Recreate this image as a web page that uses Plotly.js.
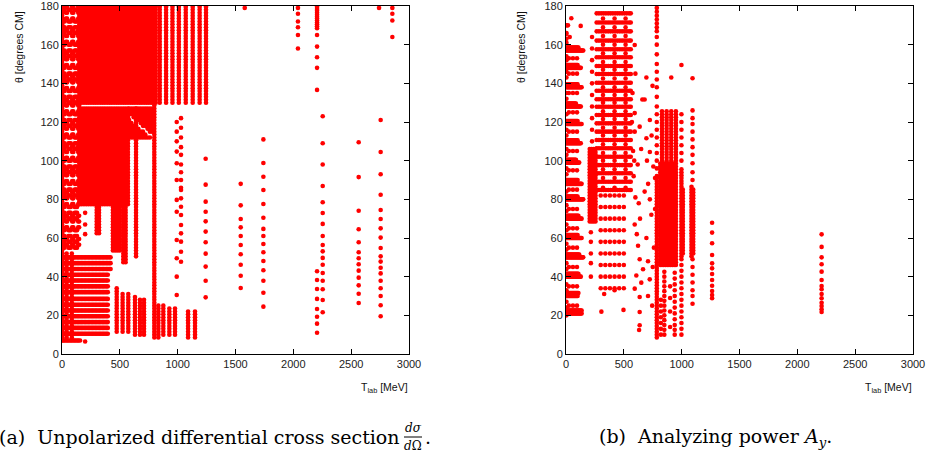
<!DOCTYPE html>
<html><head><meta charset="utf-8">
<script src="https://cdn.plot.ly/plotly-3.0.1.min.js"></script>
<style>html,body{margin:0;padding:0;background:#fff}#chart{width:930px;height:455px}</style>
</head><body><div id="chart"></div>
<script>
// ================= DATA =================
// common angle grid (degrees CM) used by densely measured energies
const thetaGrid = [7,8.5,10,11.5,13,14.5,16,17.5,19,20.5,22,23.5,25,26.5,28,29.5,31,32.5,34,35.5,37,38.5,40,41.5,43,44.5,46,47.5,49,50.5,52,53.5,55,56.5,58,59.5,61,62.5,64,65.5,67,68.5,70,71.5,73,74.5,76,77.5,79,80.5,82,83.5,85,86.5,88,89.5,91,92.5,94,95.5,97,98.5,100,101.5,103,104.5,106,107.5,109,110.5,112,113.5,115,116.5,118,119.5,121,122.5,124,125.5,127,128.5,130,131.5,133,134.5,136,137.5,139,140.5,142,143.5,145,146.5,148,149.5,151,152.5,154,155.5,157,158.5,160,161.5,163,164.5,166,167.5,169,170.5,172,173.5,175,176.5,178,179.5];

// ---- (a) unpolarized differential cross section ----
const aTopE = [150,170,190,210,230,250,270,290,310,330,350,370,390,410,430,450,470,490,510,530,550,570,590,610,630,650,670,690,710,730,750,770,790,810];
const aTopRange = [129.5, 180];
const aHighE = [845,900,955,1010,1070,1130,1190,1245];
const aHighRange = [129.5, 180];
const aMidE = [150,170,190,210,230,250,270,290,310,330,350,370,390,410,430,450,470,490,510,530,550,570];
const aMidRange = [77, 128];
const aFullE = [798];
const aFullRange = [8, 180];
const aStubE = [300,320,440,460,480,500,530,550,640];
const aStubBot = [62,62,53,53,53,53,47,47,50];
const aStubTop = [78,78,78,78,78,78,78,78,128];
const aBandE = [580,600,620,640,660,680,700,720,740,760,780];
const aBandUpBot = [124,123,122,121,120,119,118,117,116,115,114];
const aBandUpTop = [128,128,128,128,128,128,128,128,128,128,128];
const aBandLoBot = [112,112,112,112,112,111,111,111,111,111,111];
const aBandLoTop = [121,120,119,118,117,116,115,114,113,112,111];
const aFwdE = [473,524,573,631,674,709,833,876,928,977,1090,1150];
const aFwdBot = [11,11,10.5,10,10,9.5,8.5,9,9,9,8,8];
const aFwdTop = [34,32,31,30,29,28,26,25,24,23.5,22.5,22];
const aBridgeE = [3,40,85];
const aBridgeRange = [8, 52];
const aEdgeE = [1];
const aEdgeRange = [52, 180];
const aRowTh = [7,10.5,13.5,16.5,19.5,22.5,25.5,28.5,32,35,38,41,44,47,50];
const aRowMaxE = [160,400,400,400,400,400,400,400,400,400,400,400,420,420,420];
const aRowE = [0,12,24,36,48,60,72,84,96,108,120,132,144,156,168,180,192,204,216,228,240,252,264,276,288,300,312,324,336,348,360,372,384,396,408,420];
const aPatchE1 = [3,12,22,56,66,76,110,120,130];
const aPatchThA = [55,58,61,64,70,73,76,82,85,88,94,97,100,106,109,112,118,121,124,130,133,136,142,145,148,154,157,160,166,169,172,178];
const aPatchE2 = [34,44,88,98,140,148];
const aPatchThB = [56.5,59.5,65.5,68.5,71.5,77.5,80.5,83.5,89.5,92.5,95.5,101.5,104.5,107.5,113.5,116.5,119.5,125.5,128.5,131.5,137.5,140.5,143.5,149.5,152.5,155.5,161.5,164.5,167.5,173.5,176.5,179.5];
const aSparseE = [992,1029,1242,1545,1580,1741,2040,2205,2254,2565,2741,2755,2856,200];
const aSparseTh = [
  [120,115,110,104.7,98.7,90,79.7,73.6,59,49.5,40,30.5],
  [122,117,112,107,103,98,94,90,86,84.8,80.5,76.2,71.9,66.7,62.4,58.1,52.9,47.7],
  [101,87.6,78.8,73.6,68.6,63.3,57.8,51.9,45.2,37.9,29.3],
  [88,76.9,69.8,65.5,61,56.4,51.6,46.2,40.5,34.1],
  [179],
  [111,98.8,91.7,84.8,77.6,70.5,64.7,61,56.9,52.6,48.1,43.3,37.9,31.7,24.5],
  [179,176,172,169,165,158],
  [179.5,178.5,177.5,176.5,175.5,174.5,173.5,172.5,171.5,170.5,169.5,168.5,165,159,153.5,148,136.6,42.8,38.3,33.6,28.5,23.3,19.3,15.7,11],
  [123,109,98,86.9,78.5,72.9,67.3,61,56.4,53.1,49.7,46.2,41.9,37.9,33.5,27.9,21.6],
  [109.5,91.5,74.1,64.5,57.8,52.6,49.5,46.4,43.1,39.5,35.5,31.2,26.4],
  [179],
  [121,104.5,93,82.4,74.5,69.8,65,60.2,54.8,50.5,47.8,44.6,41.7,37.9,34,30,25.2,19.5],
  [179,176,172.5,164],
  [79,73,67,62,6.5]
];

// ---- (b) analyzing power ----
const bDenseE = [205,222,238,255,785,815,830,845,860,875,890,905,920,935,950,830,870,910,950,998,1010,1085,1100];
const bDenseBot = [68,68,68,68,8,45,45,45,45,45,45,45,45,45,45,99,99,99,99,48,52,50,52];
const bDenseTop = [107,107,107,107,91,99,99,99,99,99,99,99,99,99,99,126,126,126,126,96,86,87,86];
const bRowTh = [21,22.5,30,31.5,40,41.5,50,51.5,60,61.5,70,71.5,80,81.5,88,90,99,100.5,109,110.5,119,120.5,128,129.5,138,139.5,148,149.5,157,158.5];
const bRowMaxE = [140,140,100,110,130,110,150,120,140,100,140,110,150,100,140,100,120,90,130,100,140,100,130,90,140,100,130,100,150,110];
const bRowE = [2,9,16,23,30,37,44,51,58,65,72,79,86,93,100,107,114,121,128,135,142,149];
const bEdgeE = [4];
const bEdgeTh = [20,24,27,33,36,44,47,54,57,64,67,74,77,84,93,96,103,106,113,116,124,132,135,143,146,152,154,161,163,166,170];
const bZigE = [25,60,95];
const bZigTh = [25,35,45,55,65,75,85,95,105,115,125,135,145,153];
const bTopE = [3,17,32,46,127];
const bTopTh = [165.5,170,164,173.7,169.7];
const bMidTh = [176.2,171.5,166.9,162.1,157.6,153.5,149,144.8,140.3,136.2,131.8,127.9,123.6,119.3,115,110.7,106.4,102,97.7,93.5,89.1,84.8];
const bMidE = [265,285,305,325,345,365,385,405,425,445,465,485,505,525,545,560];
const bMidColE = [320,420,515];
const bMidColTh = [86,91,95.5,100,104,108.5,113,117,121.5,125.5,130,134,138,142.5,147,151,155.5,160,164.5,169,173.5];
const bMidLowE = [300,340,380,420,460,500];
const bMidLowTh = [34,40,46,52,58,64,70,76,82];
const bSparseE = [225,215,785,998,998,1094,1094,1263,2210,850,940,900,820];
const bSparseTh = [
  [110,116,122,128,134,140,146,152,158,164],
  [40,47,52,58,63],
  [179,177,175,173,171,169,167,164,160,155,150,146,142,138,133,128,124,120,116,112,108,104,100,96,92],
  [149.5,124,120,116,112,108,104,100],
  [46,43,40,37,34,31,28,25,22,19,16,13,10],
  [142.6,126,122,119,115,111,107,103,98.7,94,90],
  [49,45,41,37,33,30,26],
  [67.9,62.8,57.3,51.2,46.9,44.3,41.4,38.3,35.3,32.6,30.5,28.8],
  [61.9,55.4,50,46.4,42.6,38.3,35.2,33.5,31,28.8,26.5,24.8,23.1,21.7],
  [10,12.5,15,17.5,20,22.5,25,27.5,30,32.5,35,37.5,40,42.5],
  [10,12.5,15,18,21,24,27,30,33,36,39,42],
  [14,22,29,35],
  [10,13,16,19,22,25,28]
];
const bScatE = [594,600,695,910,660,680,748,594,594,637,695,725,740,725,755,770,710,680,725,770,600,629,594,623,637,608,594,637,637,637,632,695,709,724,709,651,666,738,612,640,760,750,745,700,650,620,580,585,570,575,590,306,497,330,420];
const bScatTh = [159.8,145,143,143,131.6,131.6,138.7,124.6,115,117.6,111.6,121,113,104.5,97,91,88,84,80,75,81,78,67,56,49,40.6,33.8,29.5,21.7,14.9,12.4,60,48,38.6,30,36.9,43.8,72,62,70,55,45,25,100,106,98,105,92,120,135,100,21.9,22.8,31,33];

// ================= BUILD POINTS =================
function cols(P, E, bot, top) {
  E.forEach((e, i) => {
    const lo = Array.isArray(bot) ? bot[i] : bot;
    const hi = Array.isArray(top) ? top[i] : top;
    thetaGrid.forEach(t => { if (t >= lo && t <= hi) { P.x.push(e); P.y.push(t); } });
  });
}
function grid(P, E, Th) { E.forEach(e => Th.forEach(t => { P.x.push(e); P.y.push(t); })); }
function nested(P, E, ThL) { E.forEach((e, i) => ThL[i].forEach(t => { P.x.push(e); P.y.push(t); })); }
function pairs(P, E, Th) { E.forEach((e, i) => { P.x.push(e); P.y.push(Th[i]); }); }
function rows(P, Th, maxE, E) { Th.forEach((t, i) => E.forEach(e => { if (e <= maxE[i]) { P.x.push(e); P.y.push(t); } })); }

const A = {x: [], y: []};
cols(A, aTopE, aTopRange[0], aTopRange[1]);
cols(A, aHighE, aHighRange[0], aHighRange[1]);
cols(A, aMidE, aMidRange[0], aMidRange[1]);
cols(A, aFullE, aFullRange[0], aFullRange[1]);
cols(A, aStubE, aStubBot, aStubTop);
cols(A, aBandE, aBandUpBot, aBandUpTop);
cols(A, aBandE, aBandLoBot, aBandLoTop);
cols(A, aFwdE, aFwdBot, aFwdTop);
cols(A, aBridgeE, aBridgeRange[0], aBridgeRange[1]);
cols(A, aEdgeE, aEdgeRange[0], aEdgeRange[1]);
rows(A, aRowTh, aRowMaxE, aRowE);
grid(A, aPatchE1, aPatchThA);
grid(A, aPatchE2, aPatchThB);
nested(A, aSparseE, aSparseTh);

const B = {x: [], y: []};
cols(B, bDenseE, bDenseBot, bDenseTop);
rows(B, bRowTh, bRowMaxE, bRowE);
grid(B, bEdgeE, bEdgeTh);
grid(B, bZigE, bZigTh);
pairs(B, bTopE, bTopTh);
grid(B, bMidE, bMidTh);
grid(B, bMidColE, bMidColTh);
grid(B, bMidLowE, bMidLowTh);
nested(B, bSparseE, bSparseTh);
pairs(B, bScatE, bScatTh);

const mk = {color: '#ff0000', size: 4.6, symbol: 'circle', line: {width: 0}};
const traces = [
  {type: 'scatter', mode: 'markers', x: A.x, y: A.y, xaxis: 'x', yaxis: 'y', marker: mk, hoverinfo: 'skip'},
  {type: 'scatter', mode: 'markers', x: B.x, y: B.y, xaxis: 'x2', yaxis: 'y2', marker: mk, hoverinfo: 'skip'}
];

// ================= LAYOUT =================
const W = 930, H = 455;
const px = v => v / W, py = v => 1 - v / H;
const tickFont = {family: 'Liberation Sans, Arial, sans-serif', size: 11, color: '#222'};
function xax(d, anchor) {
  return {domain: d, anchor: anchor, range: [0, 3000], tickvals: [0,500,1000,1500,2000,2500,3000],
    ticks: 'inside', ticklen: 5, tickcolor: '#000', mirror: 'ticks', showline: true, linecolor: '#000', linewidth: 1,
    showgrid: false, zeroline: false, tickfont: tickFont, ticklabeloverflow: 'allow', fixedrange: true};
}
function yax(anchor) {
  return {domain: [py(354), py(6)], anchor: anchor, range: [0, 180], tickvals: [0,20,40,60,80,100,120,140,160,180],
    ticks: 'inside', ticklen: 5, tickcolor: '#000', mirror: 'ticks', showline: true, linecolor: '#000', linewidth: 1,
    showgrid: false, zeroline: false, tickfont: tickFont, ticklabeloverflow: 'allow', fixedrange: true};
}
const lblFont = {family: 'Liberation Sans, Arial, sans-serif', size: 10.5, color: '#111'};
const capFam = 'DejaVu Serif, Liberation Serif, serif';
const capFont = {family: capFam, size: 19, color: '#000'};
const fracFont = {family: capFam, size: 12, color: '#000'};
const layout = {
  width: W, height: H, margin: {l: 0, r: 0, t: 0, b: 0}, paper_bgcolor: '#fff', plot_bgcolor: '#fff', showlegend: false,
  xaxis: xax([px(62), px(409)], 'y'), yaxis: yax('x'),
  xaxis2: xax([px(566), px(913)], 'y2'), yaxis2: yax('x2'),
  annotations: [
    {xref: 'paper', yref: 'paper', x: px(19), y: py(47), text: 'θ [degrees CM]', textangle: -90, showarrow: false, font: lblFont, xanchor: 'center', yanchor: 'middle'},
    {xref: 'paper', yref: 'paper', x: px(521), y: py(47), text: 'θ [degrees CM]', textangle: -90, showarrow: false, font: lblFont, xanchor: 'center', yanchor: 'middle'},
    {xref: 'paper', yref: 'paper', x: px(410), y: py(388), text: 'T<sub>lab</sub> [MeV]', showarrow: false, font: lblFont, xanchor: 'right', yanchor: 'middle'},
    {xref: 'paper', yref: 'paper', x: px(914), y: py(388), text: 'T<sub>lab</sub> [MeV]', showarrow: false, font: lblFont, xanchor: 'right', yanchor: 'middle'},
    {xref: 'paper', yref: 'paper', x: px(-3), y: py(437), text: '(a)  Unpolarized differential cross section', showarrow: false, font: capFont, xanchor: 'left', yanchor: 'middle'},
    {xref: 'paper', yref: 'paper', x: px(413), y: py(428), text: '<i>dσ</i>', showarrow: false, font: fracFont, xanchor: 'center', yanchor: 'middle'},
    {xref: 'paper', yref: 'paper', x: px(413), y: py(446), text: '<i>d</i>Ω', showarrow: false, font: fracFont, xanchor: 'center', yanchor: 'middle'},
    {xref: 'paper', yref: 'paper', x: px(423), y: py(437), text: '.', showarrow: false, font: capFont, xanchor: 'left', yanchor: 'middle'},
    {xref: 'paper', yref: 'paper', x: px(597), y: py(437), text: '(b)  Analyzing power <i>A<sub>y</sub></i>.', showarrow: false, font: capFont, xanchor: 'left', yanchor: 'middle'}
  ],
  shapes: [
    {type: 'line', xref: 'paper', yref: 'paper', x0: px(404), x1: px(422), y0: py(437), y1: py(437), line: {color: '#000', width: 1}}
  ]
};
Plotly.newPlot('chart', traces, layout, {displayModeBar: false, staticPlot: true});
</script>
</body></html>
